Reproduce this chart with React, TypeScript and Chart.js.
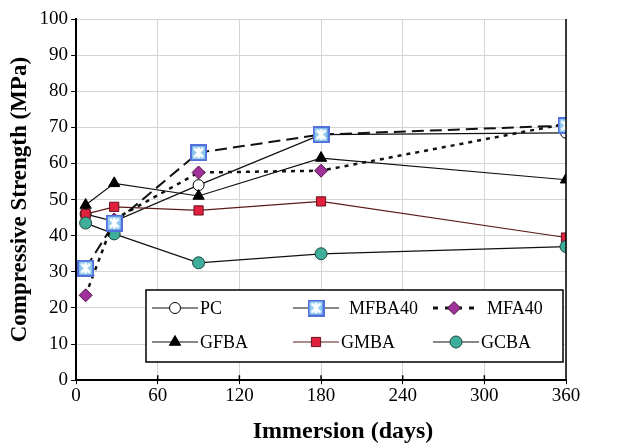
import React, { useEffect, useRef } from "react";
import { Chart, registerables } from "chart.js";
import { drawPoint } from "chart.js/helpers";

Chart.register(...registerables);

const days = [7, 28, 90, 180, 360];
const pcValues = [46, 44, 54, 68, 68.5];
const mfba40Values = [31, 43.5, 63, 68, 70.5];
const mfa40Values = [23.5, 44.5, 57.5, 58, 71];
const gfbaValues = [48.5, 54.5, 51, 61.5, 55.5];
const gmbaValues = [46, 48, 47, 49.5, 39.5];
const gcbaValues = [43.5, 40.5, 32.5, 35, 37];
const xTicks = [0, 60, 120, 180, 240, 300, 360];
const yTicks = [0, 10, 20, 30, 40, 50, 60, 70, 80, 90, 100];
const xTitle = "Immersion (days)";
const yTitle = "Compressive Strength (MPa)";

function makeXSquare(size: number): HTMLCanvasElement {
  const c = document.createElement("canvas");
  c.width = size;
  c.height = size;
  const g = c.getContext("2d")!;
  g.fillStyle = "#5270dc";
  g.fillRect(0, 0, size, size);
  g.fillStyle = "#8cc8ee";
  g.fillRect(2, 2, size - 4, size - 4);
  g.strokeStyle = "#ffffff";
  g.lineWidth = 2.5;
  g.beginPath();
  g.moveTo(4, 4);
  g.lineTo(size - 4, size - 4);
  g.moveTo(size - 4, 4);
  g.lineTo(4, size - 4);
  g.moveTo(size / 2, 3);
  g.lineTo(size / 2, size - 3);
  g.stroke();
  return c;
}

export default function App() {
  const ref = useRef<HTMLCanvasElement | null>(null);
  useEffect(() => {
    const xImg = makeXSquare(17);
    const pts = (vals: number[]) => days.map((d, i) => ({ x: d, y: vals[i] }));
    const series = [
      { label: "PC", data: pcValues, style: "circle", r: 5.5, fill: "#ffffff", stroke: "#000000", line: "#111111", dash: [] as number[], lw: 1.2, order: 5 },
      { label: "MFBA40", data: mfba40Values, style: xImg as any, r: 8, fill: "#8cc8ee", stroke: "#5270dc", line: "#111111", dash: [12, 6], lw: 2, order: 0 },
      { label: "MFA40", data: mfa40Values, style: "rectRot", r: 6.5, fill: "#a0309a", stroke: "#4a1040", line: "#111111", dash: [4, 5], lw: 2.5, order: 1 },
      { label: "GFBA", data: gfbaValues, style: "triangle", r: 6.5, fill: "#000000", stroke: "#000000", line: "#111111", dash: [] as number[], lw: 1.2, order: 4 },
      { label: "GMBA", data: gmbaValues, style: "rect", r: 6.5, fill: "#e0203c", stroke: "#6a1020", line: "#5a1a1a", dash: [] as number[], lw: 1.2, order: 3 },
      { label: "GCBA", data: gcbaValues, style: "circle", r: 6, fill: "#3fae9a", stroke: "#1e4a40", line: "#111111", dash: [] as number[], lw: 1.2, order: 2 },
    ];

    const legendPlugin = {
      id: "boxLegend",
      afterDatasetsDraw(chart: any) {
        const ctx = chart.ctx as CanvasRenderingContext2D;
        const left = 146, top = 290, w = 417, h = 72;
        ctx.save();
        ctx.fillStyle = "#ffffff";
        ctx.fillRect(left, top, w, h);
        ctx.strokeStyle = "#000000";
        ctx.lineWidth = 1.5;
        ctx.strokeRect(left, top, w, h);
        const cols = [152, 293, 433];
        const rows = [308, 342];
        ctx.font = "18px 'Liberation Serif'";
        ctx.textBaseline = "middle";
        series.forEach((s, i) => {
          const cx = cols[i % 3];
          const cy = rows[Math.floor(i / 3)];
          const lineLen = i === 2 ? 42 : 46;
          ctx.strokeStyle = s.line;
          ctx.lineWidth = i === 2 ? 3 : 1.2;
          ctx.setLineDash(i === 2 ? [5, 7] : []);
          ctx.beginPath();
          ctx.moveTo(cx, cy);
          ctx.lineTo(cx + lineLen, cy);
          ctx.stroke();
          ctx.setLineDash([]);
          ctx.fillStyle = s.fill;
          ctx.strokeStyle = s.stroke;
          ctx.lineWidth = 1;
          drawPoint(ctx, { pointStyle: s.style, radius: s.r, rotation: 0, borderWidth: 1 } as any, cx + lineLen / 2, cy);
          ctx.fillStyle = "#000000";
          ctx.fillText(s.label, cx + lineLen + (i === 2 ? 12 : i === 1 ? 10 : 2), cy + 1);
        });
        ctx.restore();
      },
    };

    const borderPlugin = {
      id: "rightBorder",
      afterDraw(chart: any) {
        const { ctx, chartArea, scales } = chart;
        ctx.save();
        ctx.strokeStyle = "#000";
        ctx.lineWidth = 1.5;
        ctx.beginPath();
        ctx.moveTo(chartArea.right, chartArea.top);
        ctx.lineTo(chartArea.right, chartArea.bottom);
        xTicks.forEach((v) => {
          const px = scales.x.getPixelForValue(v);
          ctx.moveTo(px, chartArea.bottom);
          ctx.lineTo(px, chartArea.bottom - 5);
        });
        ctx.stroke();
        ctx.font = "bold 24px 'Liberation Serif'";
        ctx.fillStyle = "#000";
        ctx.textAlign = "center";
        ctx.textBaseline = "middle";
        ctx.fillText(xTitle, 343, 432);
        ctx.restore();
      },
    };

    const chart = new Chart(ref.current!, {
      type: "line",
      data: {
        datasets: series.map((s) => ({
          label: s.label,
          data: pts(s.data),
          order: s.order,
          borderColor: s.line,
          borderWidth: s.lw,
          borderDash: s.dash,
          pointStyle: s.style,
          pointRadius: s.r,
          pointBackgroundColor: s.fill,
          pointBorderColor: s.stroke,
          pointBorderWidth: 1,
          fill: false,
          tension: 0,
        })),
      },
      options: {
        animation: false,
        responsive: false,
        maintainAspectRatio: false,
        layout: { padding: { left: 6, right: 55, top: 19, bottom: 41 } },
        plugins: { legend: { display: false }, tooltip: { enabled: false } },
        scales: {
          x: {
            type: "linear",
            min: 0,
            max: 360,
            afterBuildTicks: (axis: any) => {
              axis.ticks = xTicks.map((v) => ({ value: v }));
            },
            grid: { color: "#d4d4d4", tickColor: "#000", tickLength: 4, lineWidth: 1 },
            border: { color: "#000", width: 2 },
            ticks: { color: "#000", font: { family: "'Liberation Serif'", size: 19 }, padding: 0, maxRotation: 0 },
            title: { display: false, text: xTitle },
          },
          y: {
            min: 0,
            max: 100,
            afterBuildTicks: (axis: any) => {
              axis.ticks = yTicks.map((v) => ({ value: v }));
            },
            grid: { color: "#d4d4d4", tickColor: "#000", tickLength: 5, lineWidth: 1 },
            border: { color: "#000", width: 2 },
            ticks: { color: "#000", font: { family: "'Liberation Serif'", size: 19 }, padding: 3 },
            title: { display: true, text: yTitle, color: "#000", font: { family: "'Liberation Serif'", size: 23, weight: "bold" }, padding: { top: 0, bottom: 3 } },
          },
        },
      },
      plugins: [legendPlugin, borderPlugin],
    });
    return () => chart.destroy();
  }, []);
  return (
    <div style={{ position: "absolute", left: 0, top: 0, width: 621, height: 448, background: "#fff" }}>
      <canvas ref={ref} width={621} height={448} style={{ width: 621, height: 448 }} />
    </div>
  );
}
